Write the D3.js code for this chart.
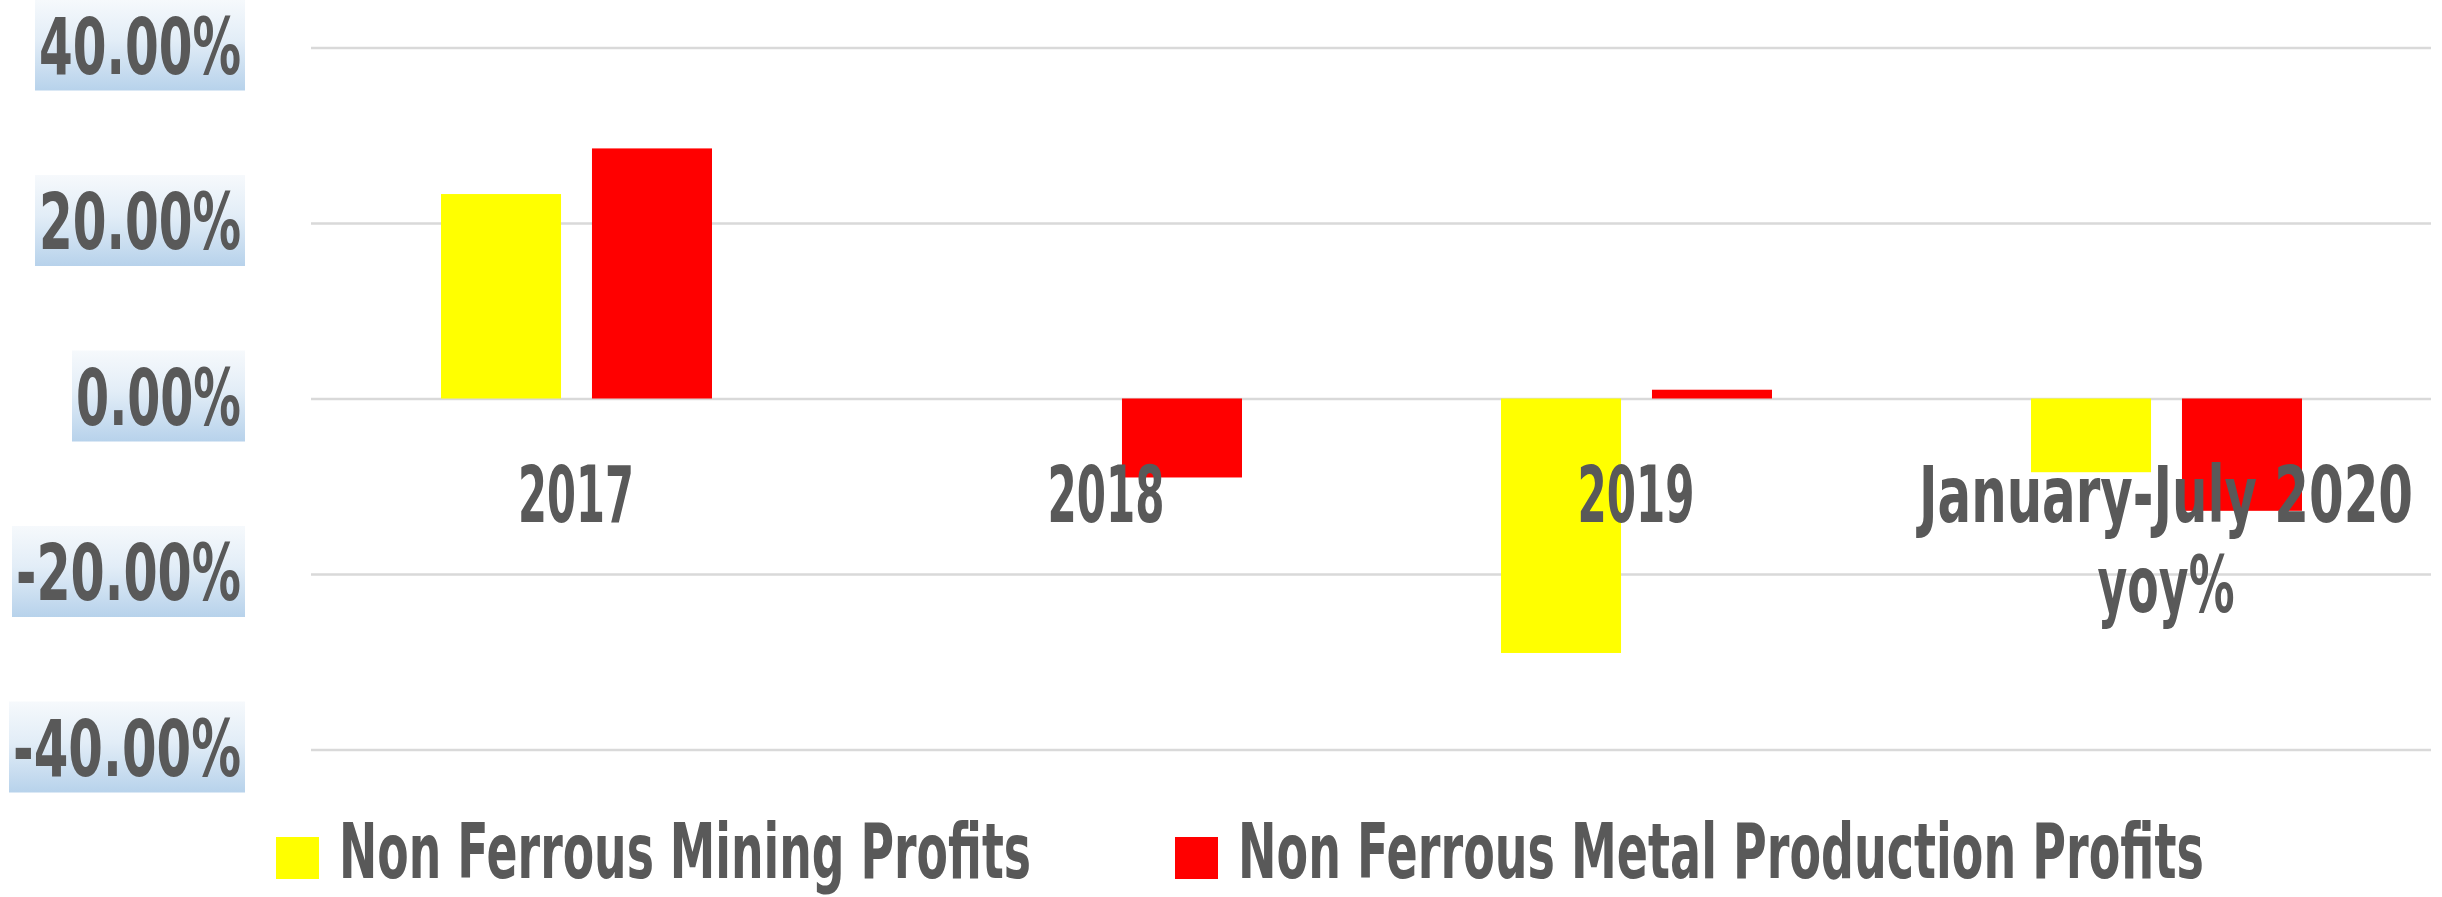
<!DOCTYPE html>
<html>
<head>
<meta charset="utf-8">
<script src="https://cdn.jsdelivr.net/npm/d3@7"></script>
<style>
  html, body { margin: 0; padding: 0; background: #ffffff; }
  svg { display: block; }
</style>
</head>
<body>
<svg id="chart" width="2442" height="897"></svg>
<script>
// ---- data ----
const categories = ["2017", "2018", "2019", "January-July 2020|yoy%"];
const seriesNames = ["Non Ferrous Mining Profits", "Non Ferrous Metal Production Profits"];
const miningProfits = [23.3, 0, -29.0, -8.4];
const metalProfits = [28.5, -9.0, 1.0, -12.8];
const seriesColors = ["#FFFF00", "#FF0000"];
const yTicks = [-40, -20, 0, 20, 40];

// ---- layout ----
const plotLeft = 311, plotRight = 2431;
const yTop = 47.5, yBottom = 749.5;
const textColor = "#595959";
const fontFamily = "'DejaVu Sans', 'Liberation Sans', sans-serif";
const fontSize = 78;
// target rendered widths to mimic the condensed original typeface
const textWidths = {
  "40.00%": 202, "20.00%": 202, "0.00%": 165, "-20.00%": 225, "-40.00%": 228,
  "2017": 116, "2018": 117, "2019": 117, "January-July 2020": 494, "yoy%": 137,
  "Non Ferrous Mining Profits": 692, "Non Ferrous Metal Production Profits": 966
};

const svg = d3.select("#chart");

const defs = svg.append("defs");
const grad = defs.append("linearGradient").attr("id", "labelGrad")
  .attr("x1", 0).attr("y1", 0).attr("x2", 0).attr("y2", 1);
grad.append("stop").attr("offset", "0%").attr("stop-color", "#f6f9fc");
grad.append("stop").attr("offset", "45%").attr("stop-color", "#e2edf7");
grad.append("stop").attr("offset", "100%").attr("stop-color", "#b7d2eb");

// condensed text helper: draws text then squeezes horizontally to target width
function condensedText(g, str, px, py, anchor, size) {
  const t = g.append("text")
    .attr("font-family", fontFamily).attr("font-weight", "bold")
    .attr("font-size", size || fontSize).attr("fill", textColor)
    .attr("text-anchor", anchor)
    .text(str);
  const natural = t.node().getComputedTextLength();
  const target = textWidths[str] || natural * 0.62;
  const sx = target / natural;
  t.attr("transform", `translate(${px},${py}) scale(${sx},1)`);
  return t;
}

const x = d3.scaleBand().domain(categories).range([plotLeft, plotRight]).paddingInner(0).paddingOuter(0);
const bw = x.bandwidth();
const xs = d3.scaleBand().domain([0, 1]).range([bw * 0.2453, bw * 0.7566]).paddingInner(0.205).paddingOuter(0);
const y = d3.scaleLinear().domain([-40, 40]).range([yBottom, yTop]);

// gridlines
const yAxis = d3.axisLeft(y).tickValues(yTicks).tickSize(-(plotRight - plotLeft)).tickFormat("");
const gGrid = svg.append("g").attr("transform", `translate(${plotLeft},0)`).call(yAxis);
gGrid.select(".domain").remove();
gGrid.selectAll(".tick line").attr("stroke", "#d9d9d9").attr("stroke-width", 2.5);

// y labels with gradient boxes
const fmt = d => d.toFixed(2) + "%";
const yLab = svg.append("g");
yTicks.forEach(t => {
  const label = fmt(t);
  const tw = textWidths[label] || 200;
  const ty = y(t);
  yLab.append("rect")
    .attr("x", 241 - tw - 4).attr("y", Math.max(0, ty - 48))
    .attr("width", tw + 8).attr("height", ty - 48 < 0 ? 91 + (ty - 48) : 91)
    .attr("fill", "url(#labelGrad)");
  condensedText(yLab, label, 241, ty + 26, "end");
});

// bars
const series = [miningProfits, metalProfits];
const gBars = svg.append("g");
series.forEach((vals, si) => {
  gBars.selectAll(null).data(vals).enter().append("rect")
    .attr("x", (d, i) => x(categories[i]) + xs(si))
    .attr("width", xs.bandwidth())
    .attr("y", d => Math.min(y(d), y(0)))
    .attr("height", d => Math.abs(y(d) - y(0)))
    .attr("fill", seriesColors[si]);
});

// category labels
const gCat = svg.append("g");
categories.forEach(c => {
  const lines = c.split("|");
  const cx = x(c) + bw / 2;
  lines.forEach((ln, li) => {
    condensedText(gCat, ln, cx, 522 + li * 90, "middle");
  });
});

// legend
const legendX = [276, 1175];
const gLeg = svg.append("g");
seriesNames.forEach((name, i) => {
  gLeg.append("rect")
    .attr("x", legendX[i]).attr("y", 837)
    .attr("width", 43).attr("height", 42)
    .attr("fill", seriesColors[i]);
  condensedText(gLeg, name, legendX[i] + 63, 878, "start", 76);
});
</script>
</body>
</html>
